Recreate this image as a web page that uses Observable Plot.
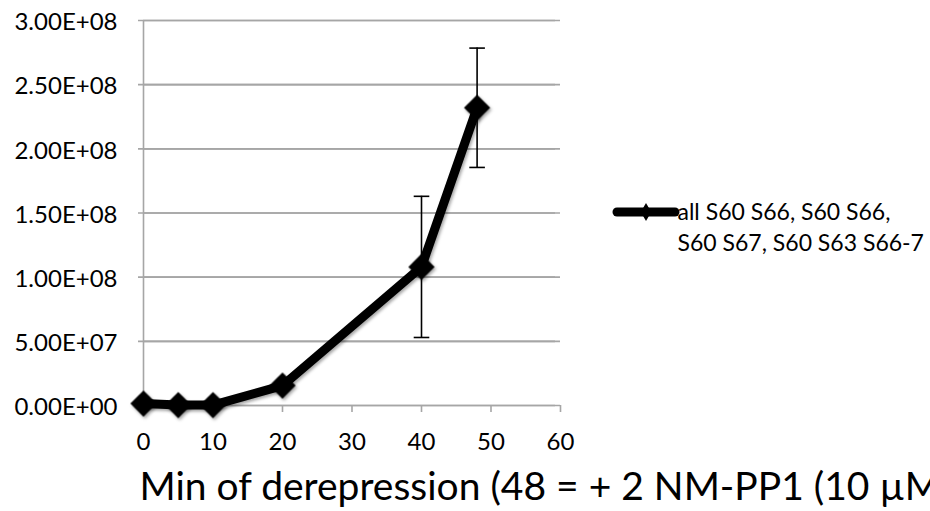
<!DOCTYPE html>
<html><head><meta charset="utf-8">
<script src="https://cdn.jsdelivr.net/npm/d3@7"></script>
<script src="https://cdn.jsdelivr.net/npm/@observablehq/plot@0.6"></script>
<style>
html,body{margin:0;padding:0;background:#fff;overflow:hidden}
svg{display:block}
</style></head>
<body><div id="chart"></div>
<script>
const minutes = [0, 5, 10, 20, 40, 48];
const signal = [1.5e6, 3e5, 3e5, 1.55e7, 1.08e8, 2.32e8];
const errors = [0, 0, 0, 0, 5.5e7, 4.65e7];
const xTicks = [0, 10, 20, 30, 40, 50, 60];
const yTicks = [0, 5e7, 1e8, 1.5e8, 2e8, 2.5e8, 3e8];
const seriesName = ["all S60 S66, S60 S66,", "S60 S67, S60 S63 S66-7"];
const xTitle = "Min of derepression (48 = + 2 NM-PP1 (10 µM))";

const data = minutes.map((m, i) => ({x: m, y: signal[i], e: errors[i]}));
const errData = data.filter(d => d.e > 0);

function sci(v) {
  if (v === 0) return "0.00E+00";
  const exp = Math.floor(Math.log10(Math.abs(v)));
  const man = v / Math.pow(10, exp);
  return man.toFixed(2) + "E" + (exp < 0 ? "-" : "+") + String(Math.abs(exp)).padStart(2, "0");
}

const cap = {draw(ctx, size) { const w = Math.sqrt(size); ctx.moveTo(-w, 0); ctx.lineTo(w, 0); }};
const FONT = "Lato, 'Open Sans', sans-serif";
const grid = "#a6a6a6";

const plot = Plot.plot({
  width: 930, height: 511,
  marginLeft: 143, marginRight: 370, marginTop: 20, marginBottom: 106,
  style: {fontFamily: FONT, background: "#fff"},
  x: {domain: [0, 60], axis: null},
  y: {domain: [0, 3e8], axis: null},
  marks: [
    Plot.ruleY(yTicks, {stroke: grid, strokeWidth: 1.6, x1: 0, x2: 60}),
    Plot.tickY(yTicks, {y: d => d, stroke: grid, strokeWidth: 1.6, dx: -5, frameAnchor: "left"}),
    Plot.ruleX([0], {stroke: grid, strokeWidth: 1.6}),
    Plot.ruleX(xTicks, {x: d => d, y1: 0, y2: 0, stroke: grid, strokeWidth: 1.6, insetBottom: -7}),
    Plot.text(yTicks, {y: d => d, text: d => sci(d), frameAnchor: "left", textAnchor: "end", lineAnchor: "middle", dx: -26, dy: 2, fontSize: 24, fill: "#000"}),
    Plot.text(xTicks, {x: d => d, text: d => String(d), frameAnchor: "bottom", lineAnchor: "middle", dy: 37, fontSize: 24, fill: "#000"}),
    Plot.text([xTitle], {frameAnchor: "bottom-left", textAnchor: "start", lineAnchor: "middle", dx: -4, dy: 82, fontSize: 39, fill: "#000"}),
    Plot.ruleX(errData, {x: "x", y1: d => d.y - d.e, y2: d => d.y + d.e, stroke: "#000", strokeWidth: 1.6}),
    Plot.dot(errData, {x: "x", y: d => d.y - d.e, symbol: cap, r: 4.4, stroke: "#000", strokeWidth: 1.6}),
    Plot.dot(errData, {x: "x", y: d => d.y + d.e, symbol: cap, r: 4.4, stroke: "#000", strokeWidth: 1.6}),
    Plot.line(data, {x: "x", y: "y", stroke: "#000", strokeWidth: 9, strokeLinejoin: "round", className: "series"}),
    Plot.dot(data, {x: "x", y: "y", symbol: "diamond2", r: 11.8, fill: "#000", stroke: "none", className: "seriesdots"}),
    Plot.text([seriesName[0]], {frameAnchor: "top-right", textAnchor: "start", lineAnchor: "middle", dx: 117, dy: 192, fontSize: 23, fill: "#000"}),
    Plot.text([seriesName[1]], {frameAnchor: "top-right", textAnchor: "start", lineAnchor: "middle", dx: 117, dy: 223, fontSize: 23, fill: "#000"})
  ]
});
document.getElementById("chart").appendChild(plot);

// legend swatch + shadow (non-data decoration)
const svg = d3.select(plot);
const defs = svg.insert("defs", ":first-child");
const f = defs.append("filter").attr("id", "sh").attr("x", "-20%").attr("y", "-20%").attr("width", "140%").attr("height", "140%");
f.append("feDropShadow").attr("dx", 1.5).attr("dy", 2).attr("stdDeviation", 1.8).attr("flood-color", "#000").attr("flood-opacity", 0.35);
svg.selectAll(".series, .seriesdots").attr("filter", "url(#sh)");

const lg = svg.append("g");
lg.append("line").attr("x1", 617).attr("x2", 675).attr("y1", 212).attr("y2", 212).attr("stroke", "#000").attr("stroke-width", 9).attr("stroke-linecap", "round");
lg.append("path").attr("d", d3.symbol(d3.symbolDiamond, 95)()).attr("transform", "translate(646,212)").attr("fill", "#000");
</script></body></html>
